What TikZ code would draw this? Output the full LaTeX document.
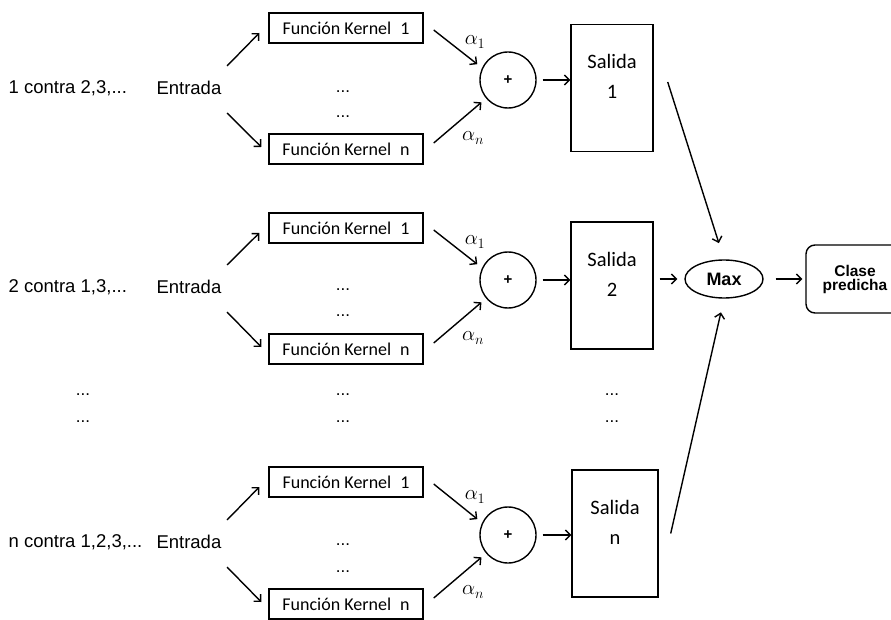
\documentclass[tikz,border=0pt]{standalone}
\usepackage{fontspec}
\setmainfont{Liberation Sans}
\newfontfamily\kernfont{Carlito}
\usetikzlibrary{arrows.meta,shapes.geometric,calc}

\begin{document}
\begin{tikzpicture}[x=1pt,y=-1pt,line width=1.4pt,
  >={Straight Barb[length=5pt,width=10pt]},
  lbl/.style={inner sep=0pt,font=\fontsize{18.5}{20}\selectfont},
  kbox/.style={draw,minimum width=154pt,minimum height=30pt,inner sep=0pt,
    font=\kernfont\fontsize{18}{20}\selectfont},
  sbox/.style={draw,minimum width=82pt,minimum height=127pt,inner sep=0pt},
  stxt/.style={inner sep=0pt,align=center,font=\kernfont\fontsize{20.5}{30}\selectfont},
  sumc/.style={draw,circle,minimum size=56pt,inner sep=0pt,
    font=\bfseries\fontsize{15}{15}\selectfont},
  wgt/.style={inner sep=0pt,font=\fontsize{20}{20}\selectfont},
  dots/.style={inner sep=0pt,font=\fontsize{17}{17}\selectfont}]
\clip (0,0) rectangle (891,620);

% row 1
\node[lbl,anchor=west] (c1) at (8,88) {1 contra 2,3,...};
\node[lbl,anchor=east] (e1) at (222,88) {Entrada};
\node[kbox] (k11) at (346,28) {Función Kernel\enspace 1};
\node[kbox] (k1n) at (346,149) {Función Kernel\enspace n};
\node[dots] (d11) at (343,92) {...};
\node[dots] (d12) at (343,117) {...};
\node[sumc] (s1) at (508,80) {+};
\node[wgt] (a11) at (475,42) {$\alpha_1$};
\node[wgt] (a1n) at (473,138) {$\alpha_n$};
\node[sbox] (o1) at (612,88) {};
\node[stxt] (o1t) at ($(o1.north)+(0,53)$) {Salida\\1};
\draw[->] ($(e1.east)+(5,-22)$) -- ($(k11.west)+(-9,5)$);
\draw[->] ($(e1.east)+(5,25)$) -- ($(k1n.west)+(-7,-2)$);
\draw[->,shorten >=6pt] ($(k11.east)+(10,2)$) -- (s1.155);
\draw[->,shorten >=6pt] ($(k1n.east)+(10,-6)$) -- (s1.220);
\draw[->,shorten <=6pt] (s1) -- (s1 -| o1.west);

% row 2
\node[lbl,anchor=west] (c2) at (8,287) {2 contra 1,3,...};
\node[lbl,anchor=east] (e2) at (222,287) {Entrada};
\node[kbox] (k21) at (346,228) {Función Kernel\enspace 1};
\node[kbox] (k2n) at (346,349) {Función Kernel\enspace n};
\node[dots] (d21) at (343,290) {...};
\node[dots] (d22) at (343,316) {...};
\node[sumc] (s2) at (508,280) {+};
\node[wgt] (a21) at (475,242) {$\alpha_1$};
\node[wgt] (a2n) at (473,338) {$\alpha_n$};
\node[sbox] (o2) at (612,285.5) {};
\node[stxt] (o2t) at ($(o2.north)+(0,53)$) {Salida\\2};
\draw[->] ($(e2.east)+(5,-22)$) -- ($(k21.west)+(-9,5)$);
\draw[->] ($(e2.east)+(5,25)$) -- ($(k2n.west)+(-7,-2)$);
\draw[->,shorten >=6pt] ($(k21.east)+(10,2)$) -- (s2.155);
\draw[->,shorten >=6pt] ($(k2n.east)+(10,-6)$) -- (s2.220);
\draw[->,shorten <=6pt] (s2) -- (s2 -| o2.west);

% rows in between
\node[dots] (g1) at (83,395) {...};
\node[dots] (g2) at (83,422) {...};
\node[dots] (g3) at (343,395) {...};
\node[dots] (g4) at (343,422) {...};
\node[dots] (g5) at (612,395) {...};
\node[dots] (g6) at (612,422) {...};

% row n
\node[lbl,anchor=west] (c3) at (8,542) {n contra 1,2,3,...};
\node[lbl,anchor=east] (e3) at (222,542) {Entrada};
\node[kbox] (k31) at (346,482) {Función Kernel\enspace 1};
\node[kbox] (k3n) at (346,604) {Función Kernel\enspace n};
\node[dots] (d31) at (343,545) {...};
\node[dots] (d32) at (343,572) {...};
\node[sumc] (s3) at (508,535) {+};
\node[wgt] (a31) at (475,497) {$\alpha_1$};
\node[wgt] (a3n) at (473,592) {$\alpha_n$};
\node[sbox,minimum width=86pt] (o3) at (615,533.5) {};
\node[stxt] (o3t) at ($(o3.north)+(0,53)$) {Salida\\n};
\draw[->] ($(e3.east)+(5,-22)$) -- ($(k31.west)+(-9,5)$);
\draw[->] ($(e3.east)+(5,25)$) -- ($(k3n.west)+(-7,-2)$);
\draw[->,shorten >=6pt] ($(k31.east)+(10,2)$) -- (s3.155);
\draw[->,shorten >=6pt] ($(k3n.east)+(10,-6)$) -- (s3.220);
\draw[->,shorten <=6pt] (s3) -- (s3 -| o3.west);

% max and result
\node[draw,ellipse,minimum width=78pt,minimum height=38pt,inner sep=0pt,
  font=\bfseries\fontsize{18}{18}\selectfont] (mx) at (724,279) {Max};
\node[draw,rounded corners=9pt,minimum width=98pt,minimum height=68pt,align=center,
  font=\bfseries\fontsize{15.5}{14}\selectfont] (cls) at (855,279) {Clase\\predicha};
\draw[->,shorten >=17pt] ($(o1.east)+(14,-6)$) -- (mx.north);
\draw[->,shorten <=6pt,shorten >=7pt] (mx -| o2.east) -- (mx.west);
\draw[->,shorten >=14pt] ($(o3.east)+(12,0)$) -- (mx.south);
\draw[->,shorten <=12pt,shorten >=3pt] (mx.east) -- (cls.west);
\end{tikzpicture}
\end{document}
